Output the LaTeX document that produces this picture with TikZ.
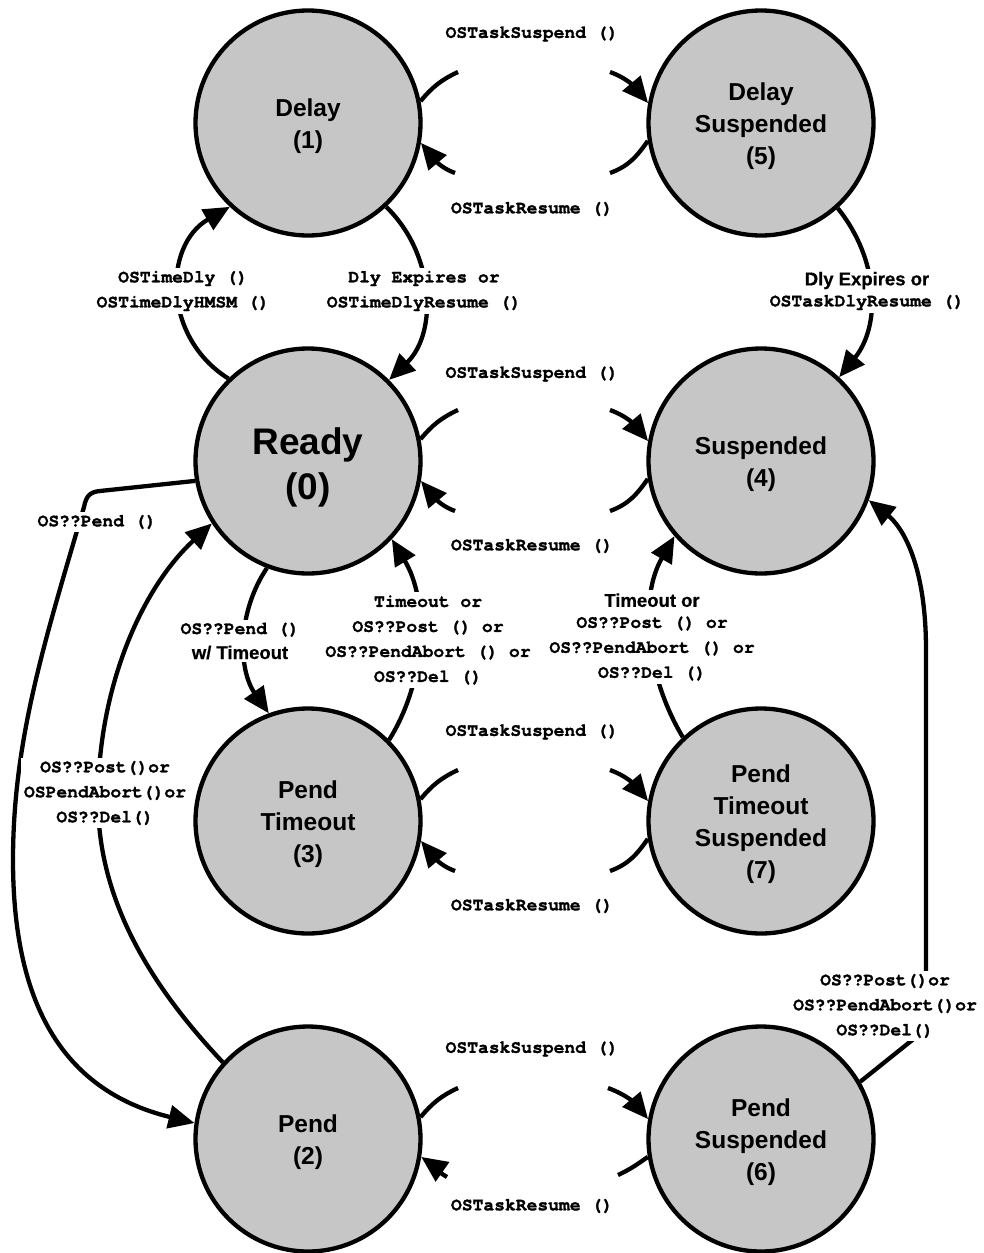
\documentclass[tikz,border=0pt]{standalone}
\usepackage{fontspec}
\setmainfont{Liberation Sans}
\newfontfamily\monof[BoldFeatures={FakeBold=1.5}]{TeX Gyre Cursor}
\newfontfamily\labsans[FakeBold=0.6]{Liberation Sans Bold}
\usetikzlibrary{arrows.meta}
\definecolor{stategray}{RGB}{198,198,198}
\pgfdeclarelayer{fg}
\pgfsetlayers{main,fg}
\begin{document}
\begin{tikzpicture}[x=1pt,y=1pt,
  state/.style={circle,draw=black,line width=4.3pt,fill=stategray,minimum size=225pt,inner sep=0pt},
  stext/.style={align=center,inner sep=0pt,font=\bfseries\fontsize{24.5}{32}\selectfont},
  conn/.style={line width=4.3pt},
  arr/.style={conn,-{Triangle[length=26pt,width=23pt]}},
  ml/.style={font=\monof\bfseries\fontsize{18}{25}\selectfont,align=center,inner sep=3pt},
  lab/.style={ml,fill=white}
]
\useasboundingbox (0,0) rectangle (983,-1253);

% states (drawn on top layer)
\begin{pgfonlayer}{fg}
\node[state] (d1) at (308,-123) {};
\node[state] (d5) at (761,-123) {};
\node[state] (r0) at (308,-461) {};
\node[state] (s4) at (761,-461) {};
\node[state] (pt3) at (308,-821) {};
\node[state] (pts7) at (761,-821) {};
\node[state] (p2) at (308,-1139) {};
\node[state] (ps6) at (761,-1139) {};
\node[stext] (d1t) at (308,-126) {Delay\\(1)};
\node[stext] (d5t) at (761,-126) {Delay\\Suspended\\(5)};
\node[stext,font=\bfseries\fontsize{37}{45}\selectfont] (r0t) at (308,-467) {Ready\\(0)};
\node[stext] (s4t) at (761,-464) {Suspended\\(4)};
\node[stext] (pt3t) at (308,-824) {Pend\\Timeout\\(3)};
\node[stext] (pts7t) at (761,-824) {Pend\\Timeout\\Suspended\\(7)};
\node[stext] (p2t) at (308,-1142) {Pend\\(2)};
\node[stext] (ps6t) at (761,-1142) {Pend\\Suspended\\(6)};
\end{pgfonlayer}

% suspend / resume pairs
\foreach \L/\R/\cy/\n in {d1/d5/123/1, r0/s4/461/2, pt3/pts7/821/3} {
  \coordinate (sa\n) at (458,-\cy+51);
  \coordinate (sb\n) at (610,-\cy+51);
  \coordinate (ra\n) at (610,-\cy-50);
  \coordinate (rb\n) at (455,-\cy-50);
  \draw[conn] (\L.11.6) to[out=50,in=205] (sa\n);
  \draw[arr] (sb\n) to[out=-20,in=130] (\R.170.8);
  \draw[conn] (\R.189.5) to[out=235,in=20] (ra\n);
  \draw[arr] (rb\n) to[out=160,in=-50] (\L.-10);
}
\coordinate (sa4) at (458,-1088);
\coordinate (sb4) at (608,-1088);
\coordinate (ra4) at (618,-1175);
\coordinate (rb4) at (447,-1177);
\draw[conn] (p2.11.6) to[out=50,in=205] (sa4);
\draw[arr] (sb4) to[out=-20,in=130] (ps6.170.8);
\draw[conn] (ps6.189.5) to[out=215,in=25] (ra4);
\draw[arr] (rb4) to[out=150,in=-35] (p2.-9.3);

\node[ml] (ts1) at (532,-34) {OSTaskSuspend ()};
\node[ml] (tr1) at (532,-209) {OSTaskResume ()};
\node[ml] (ts2) at (532,-374) {OSTaskSuspend ()};
\node[ml] (tr2) at (532,-546) {OSTaskResume ()};
\node[ml] (ts3) at (532,-732) {OSTaskSuspend ()};
\node[ml] (tr3) at (532,-906) {OSTaskResume ()};
\node[ml] (ts4) at (532,-1049) {OSTaskSuspend ()};
\node[ml] (tr4) at (532,-1206) {OSTaskResume ()};

% long connectors
\draw[arr] (r0.134) to[out=148,in=210,looseness=1.15] (d1.227.5);
\draw[arr] (d1.-47.8) to[out=-44,in=44] (r0.45.4);
\draw[arr] (d5.-48) to[out=-51,in=51] (s4.47.6);
\draw[arr] (r0.249.7) to[out=236,in=125,looseness=0.94] (pt3.110);
\draw[arr] (pt3.45) to[out=58,in=-59,looseness=0.91] (r0.-43);
\draw[arr] (pts7.133) to[out=121,in=240,looseness=0.91] (s4.221);
\draw[arr] (r0.190) -- (100,-491) .. controls (89,-492) and (86,-497) .. (84,-507)
  .. controls (45,-640) and (13,-740) .. (13,-860)
  .. controls (13,-1000) and (60,-1090) .. (p2.172);
\draw[arr] (p2.138.5) .. controls (150,-985) and (98,-900) .. (98,-800)
  .. controls (98,-690) and (140,-590) .. (r0.213);
\draw[arr] (ps6.30) -- (926,-1029) -- (926,-650)
  .. controls (926,-560) and (900,-525) .. (s4.-20);

% labels
\node[lab] (l1) at (183,-291) {OSTimeDly ()\\OSTimeDlyHMSM ()};
\node[lab] (l2) at (424,-291) {Dly Expires or\\OSTimeDlyResume ()};
\node[lab] (l3) at (867,-291) {{\labsans\fontsize{18.5}{25}\selectfont Dly Expires or}\\[-4pt]OSTaskDlyResume ()};
\node[lab] (l4) at (240,-641) {OS??Pend ()\\{\labsans\fontsize{18.5}{25}\selectfont w/ Timeout}};
\node[lab] (l5) at (428,-640) {Timeout or\\OS??Post () or\\OS??PendAbort () or\\OS??Del ()};
\node[lab] (l6) at (652,-637) {{\labsans\fontsize{18.5}{25}\selectfont Timeout or}\\[-4pt]OS??Post () or\\OS??PendAbort () or\\OS??Del ()};
\node[lab] (l7) at (97,-522) {OS??Pend ()};
\node[lab] (l8) at (105,-793) {OS??Post()or\\OSPendAbort()or\\OS??Del()};
\node[lab] (l9) at (885,-1006) {OS??Post()or\\OS??PendAbort()or\\OS??Del()};
\end{tikzpicture}
\end{document}
